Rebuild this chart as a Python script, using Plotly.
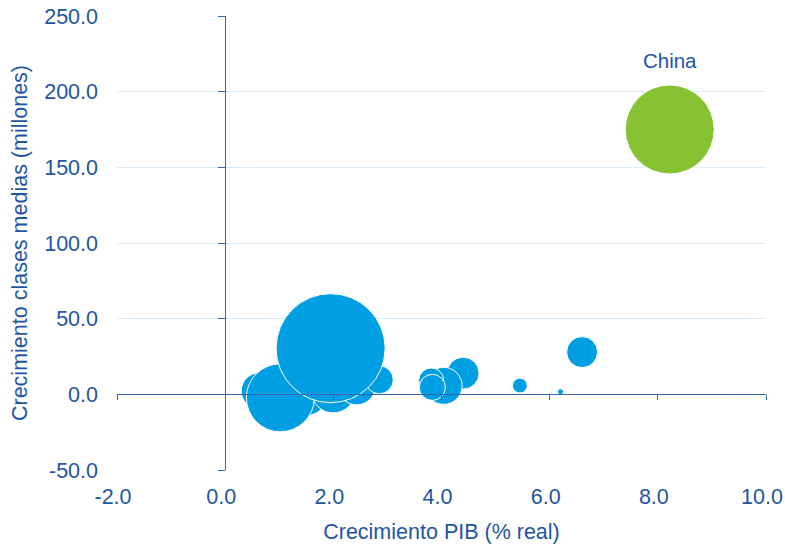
import plotly.graph_objects as go

# Data
pib = [0.63, 1.48, 2.00, 2.43, 2.85, 1.02, 1.95, 4.40, 4.04, 3.81, 3.83, 5.45, 6.20, 6.60]
clases_medias = [2.3, 1.0, 2.3, 5.6, 9.6, -2.3, 30.5, 14.0, 5.6, 9.1, 4.6, 5.8, 1.7, 27.9]
tamano = [13.0, 21.2, 19.4, 14.4, 7.8, 46.2, 118.8, 10.2, 13.7, 6.3, 6.8, 2.2, 0.36, 9.6]

china_pib = [8.22]
china_clases_medias = [175.0]
china_tamano = [79.2]
china_label = ["China"]

x_range = [-2, 10]
y_range = [-50, 250]
x_ticks = [-2, 0, 2, 4, 6, 8, 10]
y_ticks = [-50, 0, 50, 100, 150, 200, 250]

FONT = "Liberation Sans, Arial, sans-serif"
FS = 21.5
TXT = "#1d55a3"
AXL = "#3563ad"
GRID = "#dcedf9"
BLUE = "#009fe3"
GREEN = "#86c232"
SIZEREF = 0.02

fig = go.Figure()
fig.add_trace(go.Scatter(
    x=pib, y=clases_medias, mode="markers",
    marker=dict(size=tamano, sizemode="area", sizeref=SIZEREF, color=BLUE,
                opacity=1, line=dict(color="white", width=1)),
    hoverinfo="skip", showlegend=False))
fig.add_trace(go.Scatter(
    x=china_pib, y=china_clases_medias, mode="markers+text",
    text=china_label, textposition="top center",
    textfont=dict(family=FONT, size=20.5, color=TXT),
    marker=dict(size=china_tamano, sizemode="area", sizeref=SIZEREF, color=GREEN,
                opacity=1, line=dict(color="white", width=1)),
    hoverinfo="skip", showlegend=False))
# dummy trace for the axes drawn through zero
fig.add_trace(go.Scatter(x=[None], y=[None], xaxis="x2", yaxis="y2",
                         mode="markers", hoverinfo="skip", showlegend=False))

fig.update_layout(
    width=785, height=544,
    margin=dict(l=117, r=19, t=16, b=74),
    paper_bgcolor="white", plot_bgcolor="white",
    font=dict(family=FONT, size=FS, color=TXT),
    xaxis=dict(range=x_range, tickvals=x_ticks, ticktext=[f"{v:.1f}" for v in x_ticks],
               showgrid=False, zeroline=False, showline=False, ticks="",
               ticklabelstandoff=11, ticklabelshift=-4,
               tickfont=dict(family=FONT, size=FS, color=TXT),
               title=dict(text="Crecimiento PIB (% real)", standoff=25,
                          font=dict(family=FONT, size=FS, color=TXT)),
               automargin=False),
    yaxis=dict(range=y_range, tickvals=y_ticks, ticktext=[f"{v:.1f}" for v in y_ticks],
               showgrid=True, gridcolor=GRID, gridwidth=1, zeroline=False,
               showline=False, ticks="", ticklabelstandoff=18,
               tickfont=dict(family=FONT, size=FS, color=TXT),
               title=dict(text="Crecimiento clases medias (millones)", standoff=10,
                          font=dict(family=FONT, size=FS, color=TXT)),
               automargin=False),
    xaxis2=dict(overlaying="x", anchor="free", position=(0 - y_range[0]) / (y_range[1] - y_range[0]),
                range=x_range, tickvals=x_ticks, showticklabels=False,
                ticks="outside", ticklen=5, tickcolor=AXL, tickwidth=1,
                showline=True, linecolor=AXL, linewidth=1, showgrid=False, zeroline=False),
    yaxis2=dict(overlaying="y", anchor="free", position=(0 - x_range[0]) / (x_range[1] - x_range[0]),
                range=y_range, tickvals=y_ticks, showticklabels=False,
                ticks="outside", ticklen=7, tickcolor=AXL, tickwidth=1,
                showline=True, linecolor=AXL, linewidth=1, showgrid=False, zeroline=False),
)

fig.write_html("out.html", config={"displayModeBar": False},
               post_script="document.body.style.margin='0';document.body.style.overflow='hidden';")
